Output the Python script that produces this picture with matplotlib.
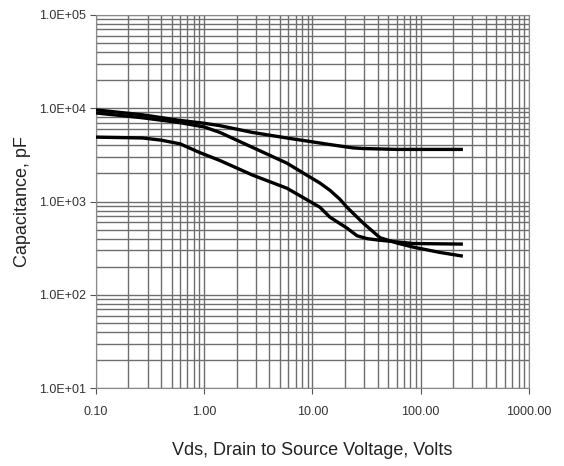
import numpy as np
import matplotlib
matplotlib.use("Agg")
import matplotlib.pyplot as plt
from matplotlib.ticker import FuncFormatter, LogLocator

plt.rcParams['font.family'] = ['Liberation Sans', 'DejaVu Sans']

# Vds (V) and capacitance (pF)
ciss_v = [0.1, 0.27, 0.6, 1.0, 1.4, 2.8, 5.8, 14.5, 23.6, 29.3, 60, 245]
ciss_c = [9600, 8500, 7400, 6900, 6500, 5500, 4800, 4080, 3760, 3700, 3620, 3620]

coss_v = [0.1, 0.27, 0.6, 1.0, 1.4, 2.8, 5.8, 11.7, 14.5, 17.9, 20.8, 29.3,
          42, 60, 85, 150, 245]
coss_c = [8900, 7900, 7000, 6300, 5500, 3800, 2580, 1580, 1320, 1060, 870, 590,
          410, 360, 325, 285, 260]

crss_v = [0.1, 0.27, 0.4, 0.6, 0.91, 1.4, 2.8, 5.8, 11.7, 14.5, 20.8, 25.8,
          32, 42, 85, 245]
crss_c = [4900, 4800, 4550, 4150, 3350, 2750, 1920, 1390, 870, 680, 520, 430,
          400, 385, 355, 350]

fig = plt.figure(figsize=(5.64, 4.66), dpi=100)
ax = fig.add_axes([0.170, 0.167, 0.768, 0.801])

for v, c in [(ciss_v, ciss_c), (coss_v, coss_c), (crss_v, crss_c)]:
    ax.plot(v, c, color='black', linewidth=2.4, solid_capstyle='butt',
            solid_joinstyle='round', zorder=3)

ax.set_xscale('log')
ax.set_yscale('log')
ax.set_xlim(0.1, 1000)
ax.set_ylim(10, 100000)

ax.xaxis.set_minor_locator(LogLocator(base=10, subs=np.arange(2, 10)))
ax.yaxis.set_minor_locator(LogLocator(base=10, subs=np.arange(2, 10)))
ax.grid(which='both', color='#6e6e6e', linewidth=1.0)

ax.xaxis.set_major_formatter(FuncFormatter(lambda x, p: "%.2f" % x))
ax.yaxis.set_major_formatter(FuncFormatter(
    lambda y, p: "1.0E+%02d" % int(round(np.log10(y)))))

ax.tick_params(which='minor', length=0)
ax.tick_params(which='major', length=4, color='#555555', labelsize=9,
               labelcolor='#333333')
ax.tick_params(axis='x', pad=9)
ax.tick_params(axis='y', pad=3)
for s in ax.spines.values():
    s.set_color('#8a8a8a')

ax.set_xlabel("Vds, Drain to Source Voltage, Volts", fontsize=13,
              color='#222222', labelpad=17)
ax.set_ylabel("Capacitance, pF", fontsize=13, color='#222222', labelpad=6)

fig.savefig("out.png", dpi=100)
